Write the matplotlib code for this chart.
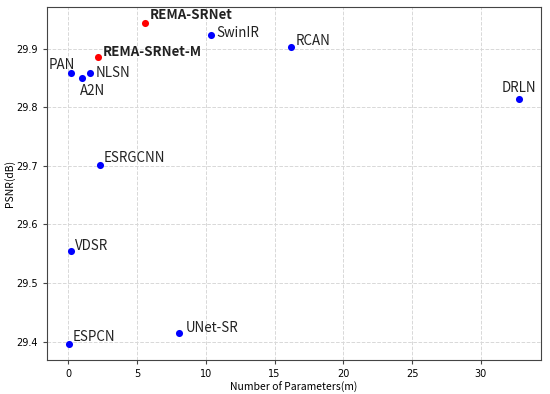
import matplotlib
matplotlib.use("Agg")
import matplotlib.pyplot as plt

plt.rcParams['font.family'] = ['Noto Sans CJK SC', 'DejaVu Sans']

names = ["REMA-SRNet", "REMA-SRNet-M", "PAN", "A2N", "NLSN", "SwinIR", "RCAN",
         "DRLN", "ESRGCNN", "VDSR", "ESPCN", "UNet-SR"]
params = [5.56, 2.16, 0.2, 0.95, 1.58, 10.37, 16.2, 32.8, 2.26, 0.15, 0.02, 8.07]
psnr = [29.944, 29.886, 29.859, 29.851, 29.859, 29.924, 29.903, 29.815,
        29.701, 29.554, 29.396, 29.414]
ours = ["REMA-SRNet", "REMA-SRNet-M"]

# label offsets in pixels (dx, dy, ha, va)
offsets = {
    "REMA-SRNet": (5, 4, "left", "baseline"),
    "REMA-SRNet-M": (5, 1, "left", "baseline"),
    "PAN": (4, 4, "right", "baseline"),
    "A2N": (-2, -6, "left", "top"),
    "NLSN": (5, 0, "left", "center"),
    "SwinIR": (5, -2, "left", "baseline"),
    "RCAN": (5, 2, "left", "baseline"),
    "DRLN": (0, 7, "center", "baseline"),
    "ESRGCNN": (4, 3, "left", "baseline"),
    "VDSR": (4, 1, "left", "baseline"),
    "ESPCN": (4, 3, "left", "baseline"),
    "UNet-SR": (6, 1, "left", "baseline"),
}

fig, ax = plt.subplots(figsize=(5.5, 3.94), dpi=100)
for n, x, y in zip(names, params, psnr):
    c = "red" if n in ours else "blue"
    ax.scatter(x, y, s=26, color=c, zorder=3, linewidths=0)
    dx, dy, ha, va = offsets[n]
    ax.annotate(n, (x, y), xytext=(dx, dy), textcoords="offset pixels",
                ha=ha, va=va, fontsize=9.6,
                fontweight="bold" if n in ours else "normal", color="#222222")

ax.set_xlim(-1.58, 34.4)
ax.set_ylim(29.368, 29.971)
ax.set_xticks([0, 5, 10, 15, 20, 25, 30])
ax.set_yticks([29.4, 29.5, 29.6, 29.7, 29.8, 29.9])
ax.grid(True, linestyle="--", color="#d8d8d8", linewidth=0.7)
ax.tick_params(labelsize=7, length=3, color="#444444")
for lab in ax.get_xticklabels() + ax.get_yticklabels():
    lab.set_fontfamily("DejaVu Sans")
for sp in ax.spines.values():
    sp.set_color("#444444")
ax.set_xlabel("Number of Parameters(m)", fontsize=7.5, labelpad=2)
ax.set_ylabel("PSNR(dB)", fontsize=7.5, labelpad=1)
fig.subplots_adjust(left=0.085, right=0.984, top=0.9815, bottom=0.0855)
fig.savefig("out.png", dpi=100)
